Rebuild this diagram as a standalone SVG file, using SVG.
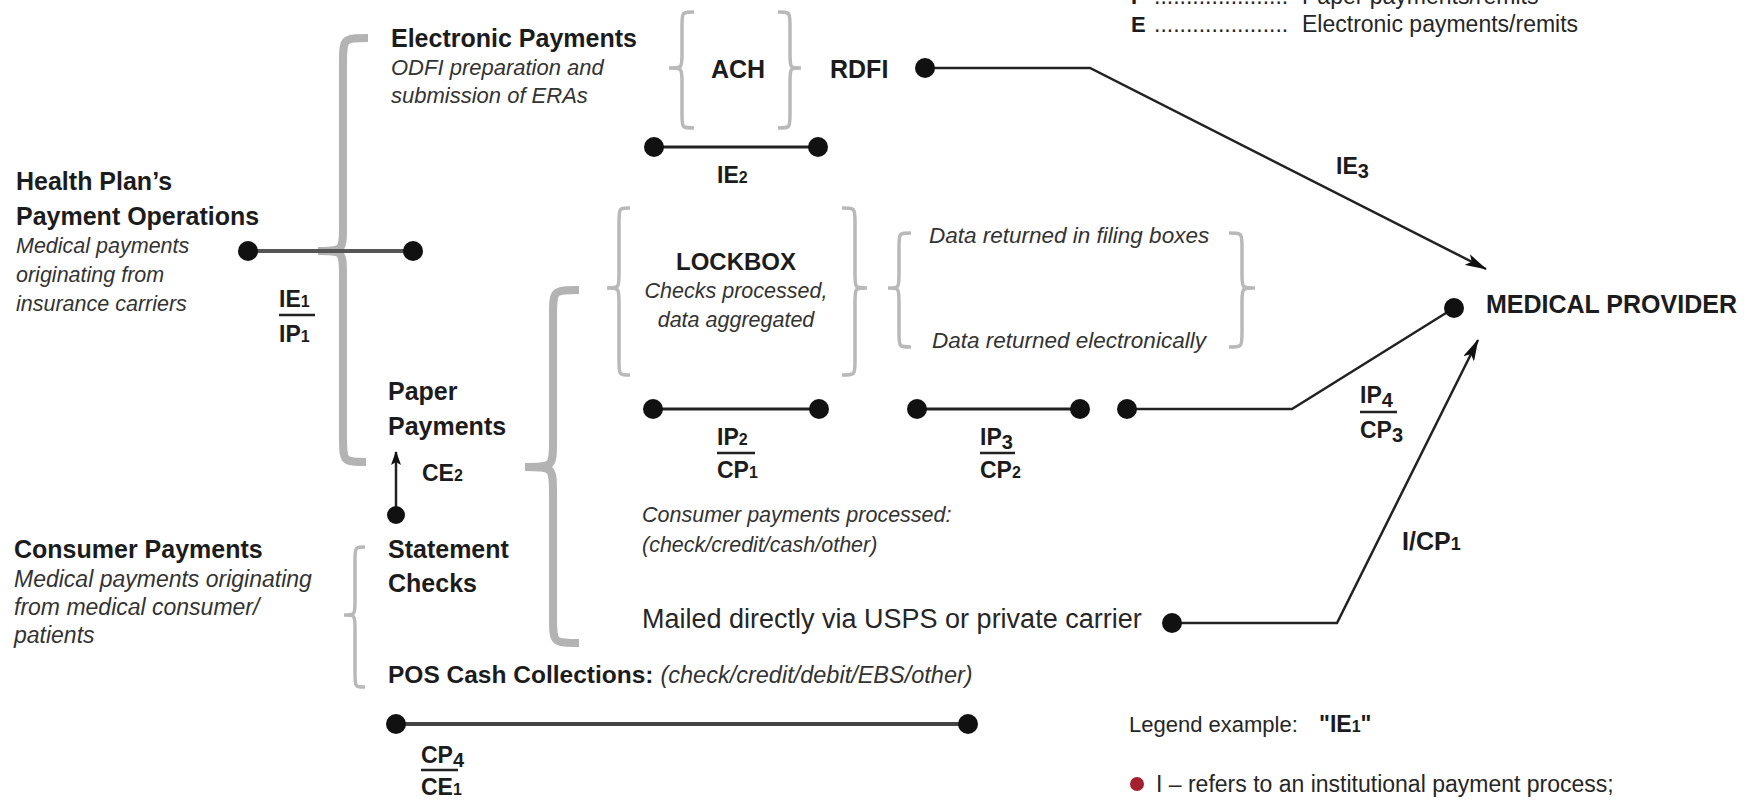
<svg xmlns="http://www.w3.org/2000/svg" width="1747" height="803" viewBox="0 0 1747 803">
<style>
.b{font-family:"Liberation Sans",Arial,sans-serif;font-weight:bold;font-size:25px;fill:#1c1c1c}
.i{font-family:"Liberation Sans",Arial,sans-serif;font-style:italic;font-size:21.5px;fill:#333}
.r{font-family:"Liberation Sans",Arial,sans-serif;font-size:23px;fill:#262626}
.lab{font-family:"Liberation Sans",Arial,sans-serif;font-weight:bold;font-size:23px;fill:#1c1c1c}
.sm{font-size:16px}
.dn{font-size:20px}
.dot{fill:#111}
.brace{fill:none;stroke:#b3b3b3;stroke-width:8}
.sbrace{fill:none;stroke:#b9b9b9;stroke-width:3.5}
.ln{fill:none;stroke:#222;stroke-width:2.5}
.ul{stroke:#222;stroke-width:2.5}
</style>
<defs>
<marker id="arr" markerUnits="userSpaceOnUse" markerWidth="22" markerHeight="12" refX="21" refY="6" orient="auto">
<path d="M0,0 L22,6 L0,12 L5,6 z" fill="#111"/>
</marker>
<marker id="arrs" markerUnits="userSpaceOnUse" markerWidth="14" markerHeight="10" refX="13" refY="5" orient="auto">
<path d="M0,0 L14,5 L0,10 L3,5 z" fill="#111"/>
</marker>
</defs>
<rect width="1747" height="803" fill="#fff"/>

<g id="braces">
<path class="brace" d="M368,38 C343,38 343,38 343,64 L343,226 C343,251 343,251 318,251 C343,251 343,251 343,276 L343,436 C343,462 343,462 366,462"/>
<path class="brace" d="M579,290 C553,290 553,290 553,316 L553,441 C553,467 553,467 525,467 C553,467 553,467 553,493 L553,617 C553,643 553,643 579,643"/>
<path class="sbrace" d="M694,12 C682,12 682,12 682,26 L682,54 C682,68 682,68 669,68 C682,68 682,68 682,82 L682,114 C682,128 682,128 694,128"/>
<path class="sbrace" d="M778,12 C790,12 790,12 790,26 L790,54 C790,68 790,68 801,68 C790,68 790,68 790,82 L790,114 C790,128 790,128 778,128"/>
<path class="sbrace" d="M630,208 C619,208 619,208 619,222 L619,274 C619,288 619,288 607,288 C619,288 619,288 619,302 L619,361 C619,375 619,375 630,375"/>
<path class="sbrace" d="M842,208 C855,208 855,208 855,222 L855,274 C855,288 855,288 867,288 C855,288 855,288 855,302 L855,361 C855,375 855,375 842,375"/>
<path class="sbrace" d="M911,233 C899,233 899,233 899,247 L899,274 C899,288 899,288 888,288 C899,288 899,288 899,302 L899,333 C899,347 899,347 911,347"/>
<path class="sbrace" d="M1229,233 C1242,233 1242,233 1242,247 L1242,274 C1242,288 1242,288 1255,288 C1242,288 1242,288 1242,302 L1242,333 C1242,347 1242,347 1229,347"/>
<path class="sbrace" d="M365,547 C355,547 355,547 355,561 L355,601 C355,615 355,615 344,615 C355,615 355,615 355,629 L355,673 C355,687 355,687 365,687"/>
</g>

<g id="connectors">
<line x1="248" y1="251" x2="413" y2="251" style="stroke:#555;stroke-width:4"/>
<line class="ln" x1="654" y1="147" x2="818" y2="147" style="stroke-width:3"/>
<polyline class="ln" points="925,68 1090,68 1486,269" marker-end="url(#arr)"/>
<line class="ln" x1="653" y1="409" x2="819" y2="409" style="stroke-width:3"/>
<line class="ln" x1="917" y1="409" x2="1080" y2="409" style="stroke-width:3"/>
<polyline class="ln" points="1127,409 1292,409 1454,308"/>
<polyline class="ln" points="1172,623 1337,623 1478,340" marker-end="url(#arr)"/>
<line class="ln" x1="396" y1="515" x2="396" y2="452" marker-end="url(#arrs)"/>
<line x1="396" y1="724" x2="968" y2="724" style="stroke:#444;stroke-width:4"/>
</g>

<g id="dots">
<circle class="dot" cx="248" cy="251" r="10"/>
<circle class="dot" cx="413" cy="251" r="10"/>
<circle class="dot" cx="925" cy="68" r="10"/>
<circle class="dot" cx="654" cy="147" r="10"/>
<circle class="dot" cx="818" cy="147" r="10"/>
<circle class="dot" cx="653" cy="409" r="10"/>
<circle class="dot" cx="819" cy="409" r="10"/>
<circle class="dot" cx="917" cy="409" r="10"/>
<circle class="dot" cx="1080" cy="409" r="10"/>
<circle class="dot" cx="1127" cy="409" r="10"/>
<circle class="dot" cx="1454" cy="308" r="10"/>
<circle class="dot" cx="1172" cy="623" r="10"/>
<circle class="dot" cx="396" cy="515" r="9"/>
<circle class="dot" cx="396" cy="724" r="10"/>
<circle class="dot" cx="968" cy="724" r="10"/>
</g>

<g id="health-plan">
<text class="b" x="16" y="190">Health Plan’s</text>
<text class="b" x="16" y="225">Payment Operations</text>
<text class="i" x="16" y="253">Medical payments</text>
<text class="i" x="16" y="282">originating from</text>
<text class="i" x="16" y="311">insurance carriers</text>
</g>

<g id="electronic-payments">
<text class="b" x="391" y="47">Electronic Payments</text>
<text class="i" x="391" y="75" style="font-size:22px">ODFI preparation and</text>
<text class="i" x="391" y="103" style="font-size:22px">submission of ERAs</text>
</g>

<g id="ach"><text class="b" x="711" y="78">ACH</text></g>
<g id="rdfi"><text class="b" x="830" y="78">RDFI</text></g>

<g id="lockbox">
<text class="b" x="736" y="270" text-anchor="middle" style="font-size:24px">LOCKBOX</text>
<text class="i" x="736" y="298" text-anchor="middle">Checks processed,</text>
<text class="i" x="736" y="327" text-anchor="middle">data aggregated</text>
</g>

<g id="data-returned">
<text class="i" x="929" y="243" style="font-size:22.5px">Data returned in filing boxes</text>
<text class="i" x="932" y="348" style="font-size:22.5px">Data returned electronically</text>
</g>

<g id="paper-payments">
<text class="b" x="388" y="400">Paper</text>
<text class="b" x="388" y="435">Payments</text>
</g>

<g id="statement-checks">
<text class="b" x="388" y="558">Statement</text>
<text class="b" x="388" y="592">Checks</text>
</g>

<g id="consumer-payments">
<text class="b" x="14" y="558">Consumer Payments</text>
<text class="i" x="14" y="587" style="font-size:23px">Medical payments originating</text>
<text class="i" x="14" y="615" style="font-size:23px">from medical consumer/</text>
<text class="i" x="14" y="643" style="font-size:23px">patients</text>
</g>

<g id="pos">
<text x="388" y="683"><tspan class="b" style="font-size:24.5px">POS Cash Collections:</tspan><tspan class="i" dx="7" style="font-size:23.5px">(check/credit/debit/EBS/other)</tspan></text>
</g>

<g id="consumer-processed">
<text class="i" x="642" y="522">Consumer payments processed:</text>
<text class="i" x="642" y="552">(check/credit/cash/other)</text>
</g>

<g id="mailed">
<text class="r" x="642" y="628" style="font-size:27px">Mailed directly via USPS or private carrier</text>
</g>

<g id="medical-provider">
<text class="b" x="1486" y="313">MEDICAL PROVIDER</text>
</g>

<g id="labels">
<text class="lab" x="279" y="307">IE<tspan class="sm">1</tspan></text>
<line class="ul" x1="279" y1="315" x2="315" y2="315"/>
<text class="lab" x="279" y="342">IP<tspan class="sm">1</tspan></text>

<text class="lab" x="717" y="183">IE<tspan class="sm">2</tspan></text>
<text class="lab" x="1336" y="174">IE<tspan class="dn" dy="4">3</tspan></text>

<text class="lab" x="717" y="445">IP<tspan class="sm">2</tspan></text>
<line class="ul" x1="717" y1="453" x2="755" y2="453"/>
<text class="lab" x="717" y="478">CP<tspan class="sm">1</tspan></text>

<text class="lab" x="980" y="445">IP<tspan class="dn" dy="4">3</tspan></text>
<line class="ul" x1="980" y1="453" x2="1015" y2="453"/>
<text class="lab" x="980" y="478">CP<tspan class="sm">2</tspan></text>

<text class="lab" x="1360" y="403">IP<tspan class="dn" dy="4">4</tspan></text>
<line class="ul" x1="1360" y1="412" x2="1397" y2="412"/>
<text class="lab" x="1360" y="438">CP<tspan class="dn" dy="4">3</tspan></text>

<text class="lab" x="422" y="481">CE<tspan class="sm">2</tspan></text>
<text class="lab" x="1402" y="550" style="font-size:25px">I/CP<tspan style="font-size:18px">1</tspan></text>

<text class="lab" x="421" y="763">CP<tspan class="dn" dy="4">4</tspan></text>
<line class="ul" x1="421" y1="770" x2="458" y2="770"/>
<text class="lab" x="421" y="795">CE<tspan class="sm">1</tspan></text>
</g>

<g id="legend">
<text class="r" x="1131" y="4"><tspan class="b" style="font-size:22px">P</tspan><tspan x="1154">.....................</tspan><tspan x="1302">Paper payments/remits</tspan></text>
<text class="r" x="1131" y="32"><tspan class="b" style="font-size:22px">E</tspan><tspan x="1154">.....................</tspan><tspan x="1302">Electronic payments/remits</tspan></text>
<text class="r" x="1129" y="732" style="font-size:22px">Legend example:</text>
<text class="lab" x="1319" y="732">"IE<tspan class="sm">1</tspan>"</text>
<circle cx="1137" cy="784" r="7" fill="#a3202e"/>
<text class="r" x="1156" y="792">I – refers to an institutional payment process;</text>
</g>
</svg>
